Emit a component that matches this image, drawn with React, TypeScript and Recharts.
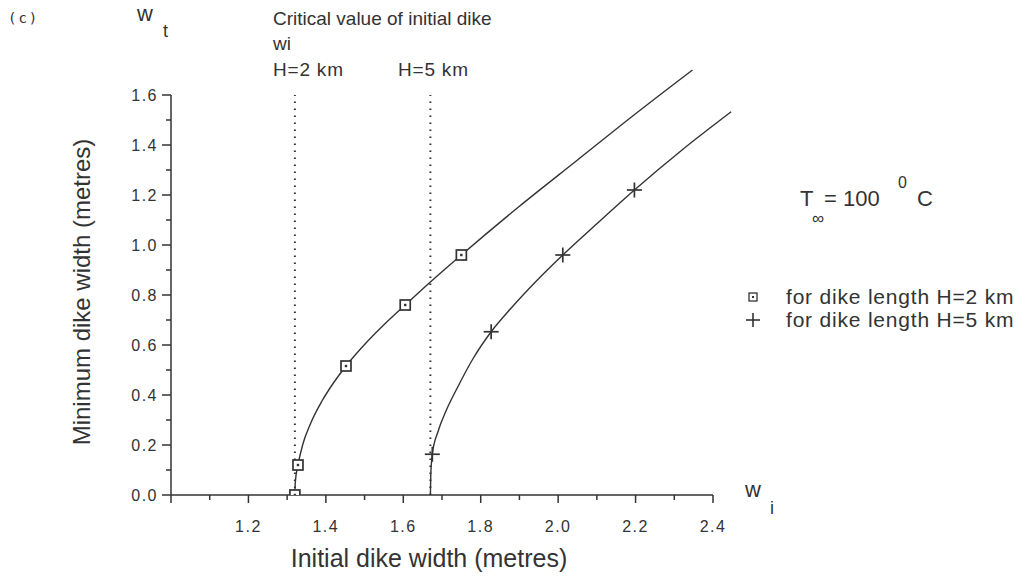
import { ComposedChart, Line, XAxis, YAxis, ReferenceLine } from 'recharts'

// curve H=2 km
const curve2x = [1.32, 1.321, 1.328, 1.34, 1.36, 1.39, 1.42, 1.452, 1.5, 1.55, 1.605, 1.67, 1.75, 1.9, 2.05, 2.2, 2.347]
const curve2y = [0.0, 0.05, 0.12, 0.2, 0.284, 0.376, 0.449, 0.516, 0.602, 0.681, 0.76, 0.852, 0.96, 1.155, 1.34, 1.525, 1.7]

// curve H=5 km
const curve5x = [1.67, 1.671, 1.675, 1.69, 1.71, 1.74, 1.78, 1.827, 1.88, 1.94, 2.012, 2.1, 2.197, 2.32, 2.447]
const curve5y = [0.0, 0.08, 0.163, 0.255, 0.335, 0.43, 0.545, 0.653, 0.75, 0.85, 0.96, 1.085, 1.22, 1.38, 1.533]

// marker points
const squareX = [1.32, 1.328, 1.452, 1.605, 1.75]
const squareY = [0.0, 0.12, 0.516, 0.76, 0.96]
const crossX = [1.675, 1.827, 2.012, 2.197]
const crossY = [0.163, 0.653, 0.96, 1.22]

// critical values of initial dike width
const criticalX = [1.32, 1.67]

const xTicks = [1.0, 1.1, 1.2, 1.3, 1.4, 1.5, 1.6, 1.7, 1.8, 1.9, 2.0, 2.1, 2.2, 2.3, 2.4]
const yTicks = [0, 0.1, 0.2, 0.3, 0.4, 0.5, 0.6, 0.7, 0.8, 0.9, 1.0, 1.1, 1.2, 1.3, 1.4, 1.5, 1.6]

const zip = (xs: number[], ys: number[]) => xs.map((x, i) => ({ x, y: ys[i] }))

const INK = '#333'
const FONT = 'Liberation Sans, Arial, Helvetica, sans-serif'

const isMajor = (v: number) => Math.round(v * 10) % 2 === 0

const XTick = (props: any) => {
  const { x, y, payload } = props
  const v = payload.value
  const major = isMajor(v)
  return (
    <g>
      <line x1={x} x2={x} y1={y} y2={y + (major ? 8 : 5)} stroke={INK} strokeWidth={1.5} />
      {major && v > 1.05 && (
        <text x={x} y={y + 37} textAnchor='middle' fontSize={16} letterSpacing={1.5} fill={INK} fontFamily={FONT}>
          {v.toFixed(1)}
        </text>
      )}
    </g>
  )
}

const YTick = (props: any) => {
  const { x, y, payload } = props
  const v = payload.value
  const major = isMajor(v)
  return (
    <g>
      <line x1={x} x2={x - (major ? 9 : 5)} y1={y} y2={y} stroke={INK} strokeWidth={1.5} />
      {major && (
        <text x={x - 13} y={y + 6} textAnchor='end' fontSize={16} letterSpacing={1.5} fill={INK} fontFamily={FONT}>
          {v.toFixed(1)}
        </text>
      )}
    </g>
  )
}

const SquareDot = (props: any) => {
  const { cx, cy } = props
  if (cx == null || cy == null) return null
  return (
    <g>
      <rect x={cx - 5} y={cy - 5} width={10} height={10} fill='#fff' stroke={INK} strokeWidth={1.7} />
      <rect x={cx - 1.2} y={cy - 1.2} width={2.4} height={2.4} fill={INK} />
    </g>
  )
}

const CrossDot = (props: any) => {
  const { cx, cy } = props
  if (cx == null || cy == null) return null
  return (
    <g stroke={INK} strokeWidth={1.7}>
      <line x1={cx - 7.5} x2={cx + 7.5} y1={cy} y2={cy} />
      <line x1={cx} x2={cx} y1={cy - 7.5} y2={cy + 7.5} />
    </g>
  )
}

const App = () => {
  const c2 = zip(curve2x, curve2y)
  const c5 = zip(curve5x, curve5y)
  const sq = zip(squareX, squareY)
  const cr = zip(crossX, crossY)

  return (
    <div style={{ position: 'relative', width: 1025, height: 586, background: '#fff' }}>
      <style>{`body{margin:0} .recharts-line, .recharts-line *{clip-path:none !important}`}</style>
      <ComposedChart width={1025} height={586} margin={{ top: 95, right: 312, bottom: 51, left: 111 }}>
        <XAxis
          type='number'
          dataKey='x'
          domain={[1.0, 2.4]}
          allowDataOverflow
          ticks={xTicks}
          interval={0}
          tickSize={0}
          tickMargin={0}
          tickLine={false}
          tick={<XTick />}
          height={40}
          stroke={INK}
          strokeWidth={1.5}
        />
        <YAxis
          type='number'
          dataKey='y'
          domain={[0, 1.6]}
          allowDataOverflow
          ticks={yTicks}
          interval={0}
          tickSize={0}
          tickMargin={0}
          tickLine={false}
          tick={<YTick />}
          width={60}
          stroke={INK}
          strokeWidth={1.5}
        />
        {criticalX.map((cx) => (
          <ReferenceLine key={cx} x={cx} stroke={INK} strokeWidth={2} strokeDasharray='1.5 5.5' />
        ))}
        <Line data={c2} dataKey='y' type='monotone' stroke={INK} strokeWidth={1.4} dot={false} isAnimationActive={false} />
        <Line data={c5} dataKey='y' type='monotone' stroke={INK} strokeWidth={1.4} dot={false} isAnimationActive={false} />
        <Line data={sq} dataKey='y' stroke='none' dot={<SquareDot />} isAnimationActive={false} />
        <Line data={cr} dataKey='y' stroke='none' dot={<CrossDot />} isAnimationActive={false} />
      </ComposedChart>

      <svg width={1025} height={586} style={{ position: 'absolute', left: 0, top: 0, pointerEvents: 'none' }} fontFamily={FONT} fill={INK}>
        <text x={8} y={23} fontSize={14} letterSpacing={2} fontFamily='DejaVu Sans Mono, monospace'>(c)</text>
        <text x={137} y={21} fontSize={22}>w</text>
        <text x={163} y={37} fontSize={18}>t</text>

        <text x={273} y={25} fontSize={19}>Critical value of initial dike</text>
        <text x={273} y={50} fontSize={19}>wi</text>
        <text x={273} y={76} fontSize={19} letterSpacing={0.8}>H=2 km</text>
        <text x={398} y={76} fontSize={19} letterSpacing={0.8}>H=5 km</text>

        <text x={745} y={497} fontSize={22}>w</text>
        <text x={770} y={514} fontSize={18}>i</text>

        <text x={429} y={567} fontSize={25} textAnchor='middle'>Initial dike width (metres)</text>
        <text x={90} y={292} fontSize={24} textAnchor='middle' transform='rotate(-90 90 292)'>
          Minimum dike width (metres)
        </text>

        <text x={800} y={206} fontSize={22}>T</text>
        <text x={812} y={224} fontSize={17}>∞</text>
        <text x={824} y={206} fontSize={22}>= 100</text>
        <text x={898} y={188} fontSize={16}>0</text>
        <text x={917} y={206} fontSize={22}>C</text>

        <rect x={749} y={293} width={8} height={8} fill='none' stroke={INK} strokeWidth={1.3} />
        <rect x={752} y={296} width={2} height={2} />
        <text x={786} y={304} fontSize={21} letterSpacing={0.8}>for dike length H=2 km</text>
        <g stroke={INK} strokeWidth={1.6}>
          <line x1={746} x2={760} y1={320} y2={320} />
          <line x1={753} x2={753} y1={313} y2={327} />
        </g>
        <text x={786} y={327} fontSize={21} letterSpacing={0.8}>for dike length H=5 km</text>
      </svg>
    </div>
  )
}

export default App
